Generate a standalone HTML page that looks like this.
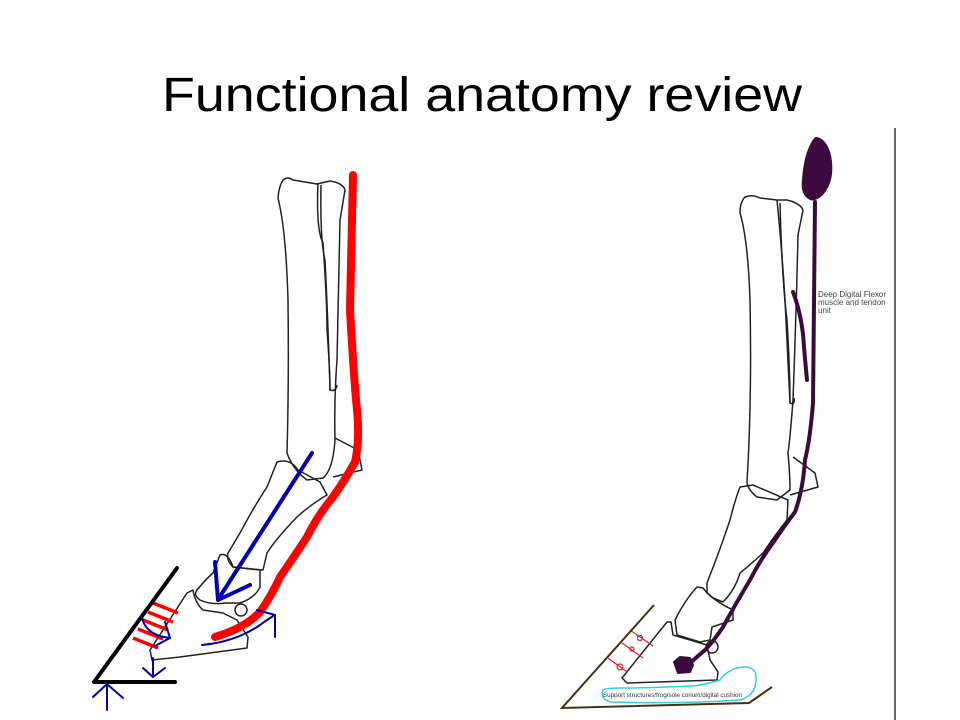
<!DOCTYPE html>
<html><head><meta charset="utf-8"><style>
html,body{margin:0;padding:0;background:#fff;}
svg{display:block;}
</style></head><body>
<svg width="960" height="720" viewBox="0 0 960 720" xmlns="http://www.w3.org/2000/svg">
<rect width="960" height="720" fill="#fff"/>
<text x="162" y="111" font-family="Liberation Sans, sans-serif" font-size="48" textLength="640" lengthAdjust="spacingAndGlyphs" fill="#000">Functional anatomy review</text>

<!-- LEFT FIGURE -->
<g fill="none" stroke="#222" stroke-width="1.5" stroke-linejoin="round">
  <path d="M283,180 Q288,176 293,180 L317,184 L330,181 Q343,183 345,190 L340,220 Q338,300 337,360 Q334,400 335,440 Q333,470 323,478 L307,480 Q293,470 287,453 Q289,380 288,300 Q286,230 278,198 Q279,186 283,180 Z"/>
  <path d="M318,183 Q316,230 323,243 Q327,300 327,330 Q330,370 330,390 Q336,392 337,385"/>
  <path d="M321,185 Q320,240 325,260 Q328,320 330,390"/>
  <path d="M335,438 L358,450 L362,470 L333,477"/>
  <path d="M277,462 Q290,458 298,470 L320,482 L327,495 Q310,505 297,517 Q275,540 267,553 L263,570 L233,567 Q226,560 228,553 L240,533 Q255,505 267,487 Z"/>
  <path d="M220,555 Q228,552 233,567 L260,570 L260,587 Q255,598 240,603 L227,603 Q210,605 200,600 Q193,595 197,590 Q205,580 213,573 Z"/>
  <circle cx="241" cy="610" r="6"/>
  <path d="M187,593 L193,590 Q195,603 203,610 L223,613 L237,620 L248,637 L247,648 L180,657 L152,660 L150,650 Z"/>
</g>
<path d="M353,175 L350,310 Q354,380 357,410 Q360,440 355,462 Q345,480 333,497 Q318,515 307,537 Q292,560 280,577 Q272,595 260,612 Q245,628 215,637" fill="none" stroke="#f00" stroke-width="8" stroke-linecap="round" stroke-linejoin="round"/>
<g stroke="#f00" stroke-width="3.5">
  <line x1="153" y1="603" x2="178" y2="613"/>
  <line x1="148" y1="612" x2="173" y2="622"/>
  <line x1="143" y1="620" x2="168" y2="630"/>
  <line x1="138" y1="629" x2="163" y2="639"/>
  <line x1="133" y1="638" x2="158" y2="648"/>
</g>
<path d="M177,568 L94,682 L175,682" fill="none" stroke="#000" stroke-width="4" stroke-linecap="round" stroke-linejoin="round"/>
<g fill="none" stroke="#0000b0" stroke-linecap="round" stroke-linejoin="round">
  <line x1="312" y1="453" x2="219" y2="598" stroke-width="4"/>
  <polyline points="215,562 218,600 250,585" stroke-width="4"/>
  <path d="M142,617 Q145,635 170,638" stroke-width="2"/>
  <polyline points="165,622 170,638 155,646" stroke-width="2"/>
  <line x1="153" y1="658" x2="153" y2="677" stroke-width="2"/>
  <polyline points="143,668 153,677 165,668" stroke-width="2"/>
  <line x1="107" y1="710" x2="107" y2="685" stroke-width="2"/>
  <polyline points="93,697 107,684 123,698" stroke-width="2"/>
  <path d="M202,645 Q235,642 260,625 Q268,619 275,615" stroke-width="2"/>
  <polyline points="257,610 275,615 275,637" stroke-width="2"/>
</g>

<!-- RIGHT FIGURE -->
<line x1="895" y1="128" x2="895" y2="720" stroke="#000" stroke-width="1.2"/>
<g fill="none" stroke="#222" stroke-width="1.5" stroke-linejoin="round">
  <path d="M745,197 Q752,194 760,198 L777,200 L787,200 Q800,203 803,210 L798,235 Q796,320 793,400 Q790,440 788,453 Q790,475 790,490 L777,500 L757,497 Q748,490 747,482 Q752,400 750,300 Q748,240 740,213 Q740,202 745,197 Z"/>
  <path d="M777,200 Q782,250 785,300 Q788,360 790,403 Q795,406 794,398"/>
  <path d="M780,203 Q782,280 787,320 Q790,370 790,403"/>
  <path d="M793,457 L815,473 L818,487 L790,495"/>
  <path d="M740,487 L753,485 L788,500 L787,520 Q775,535 763,553 Q750,565 740,573 Q735,590 723,602 L713,598 L707,593 L707,583 Q720,550 730,520 Q735,500 740,487 Z"/>
  <path d="M697,587 L703,588 Q712,600 733,610 L733,620 L712,627 L710,640 L700,642 L677,635 L675,620 Q685,600 697,587 Z"/>
  <circle cx="712" cy="647" r="6"/>
  <path d="M667,622 L671,622 L673,635 L690,640 L707,645 L710,660 L718,672 L717,680 L627,683 L622,678 Z"/>
</g>
<g stroke="#e02020" stroke-width="1.2" fill="none">
  <line x1="630" y1="630" x2="653" y2="646"/>
  <line x1="622" y1="643" x2="643" y2="658"/>
  <line x1="608" y1="658" x2="627" y2="672"/>
  <circle cx="640" cy="638" r="2.5"/>
  <circle cx="632" cy="649" r="2"/>
  <circle cx="620" cy="667" r="3"/>
</g>
<path d="M654,605 L562,708 L749,703 L772,687" fill="none" stroke="#4a3010" stroke-width="2"/>
<path d="M603,690 Q600,700 612,702 Q680,704 740,700 Q757,695 756,677 Q756,664 737,668 Q725,672 720,680 Q700,686 690,686 Q650,688 623,688 Q606,688 603,690 Z" fill="none" stroke="#30d0e0" stroke-width="1.5"/>
<text x="603" y="697" font-family="Liberation Sans, sans-serif" font-size="6" textLength="139" lengthAdjust="spacingAndGlyphs" fill="#333">Support structures/frog/sole corium/digital cushion</text>
<path d="M815,137 Q826,137 831,155 Q836,180 823,195 Q815,202 810,200 Q800,195 802,180 Q804,150 815,137 Z" fill="#3d0a3d"/>
<path d="M815,202 L813,403 Q810,440 805,460 Q803,490 795,512 Q785,525 775,540 Q760,560 750,580 Q735,605 723,627 Q713,642 705,650 L690,663" fill="none" stroke="#3d0a3d" stroke-width="4" stroke-linecap="round" stroke-linejoin="round"/>
<path d="M793,292 Q800,310 803,334 Q805,360 807,380" fill="none" stroke="#3d0a3d" stroke-width="4" stroke-linecap="round"/>
<path d="M674,662 L680,657 L690,658 L693,665 L690,672 L678,673 Z" fill="#3d0a3d" stroke="#3d0a3d" stroke-width="2" stroke-linejoin="round"/>
<g font-family="Liberation Sans, sans-serif" font-size="8" fill="#444">
  <text x="818" y="297">Deep Digital Flexor</text>
  <text x="818" y="305">muscle and tendon</text>
  <text x="818" y="313">unit</text>
</g>
</svg>
</body></html>
